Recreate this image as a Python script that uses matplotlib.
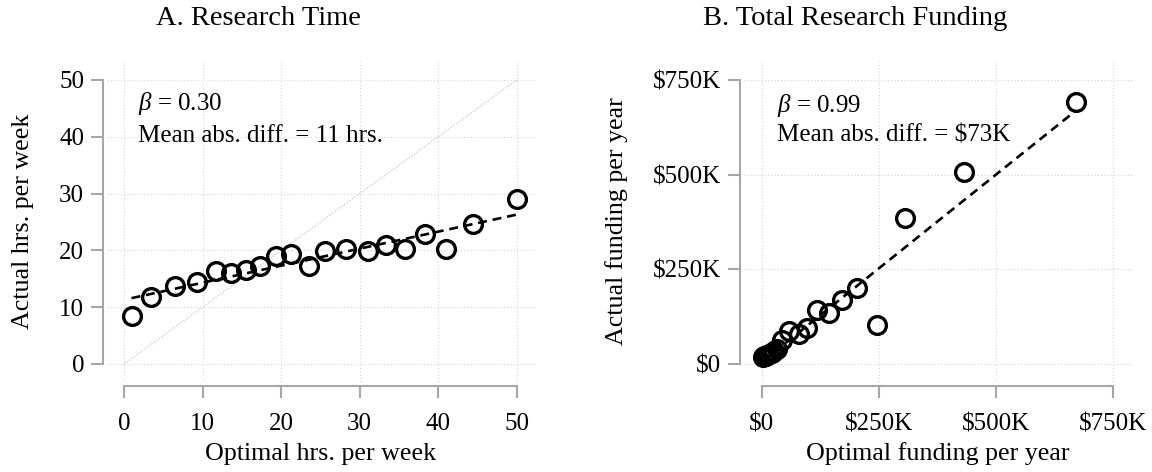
import numpy as np
import matplotlib
matplotlib.use("Agg")
import matplotlib.pyplot as plt

plt.rcParams["font.family"] = ["Liberation Serif", "DejaVu Serif"]
plt.rcParams["mathtext.fontset"] = "custom"
plt.rcParams["mathtext.rm"] = "Liberation Serif"
plt.rcParams["mathtext.it"] = "Liberation Serif:italic"

# panel A: binned research time (hrs. per week)
hrs_optimal = [0.96, 3.5, 6.5, 9.3, 11.7, 13.6, 15.5, 17.35, 19.3, 21.2,
               23.6, 25.6, 28.2, 31.1, 33.3, 35.7, 38.3, 41.0, 44.4, 50.0]
hrs_actual = [8.5, 11.8, 13.8, 14.4, 16.4, 16.1, 16.6, 17.2, 19.0, 19.3,
              17.3, 19.9, 20.3, 19.9, 20.9, 20.3, 22.8, 20.2, 24.6, 29.1]
hrs_beta = 0.30
hrs_intercept = 11.3
hrs_ticks = [0, 10, 20, 30, 40, 50]

# panel B: binned total research funding ($K per year)
fund_optimal = [2, 5, 8, 12, 16, 21, 26, 33, 44, 59,
                79, 96, 118, 143, 171, 203, 247, 306, 431, 671]
fund_actual = [18, 22, 20, 24, 27, 30, 34, 40, 64, 87,
               78, 95, 143, 135, 170, 202, 104, 386, 506, 693]
fund_beta = 0.99
fund_intercept = 5
fund_ticks = [0, 250, 500, 750]
fund_labels = ["$0", "$250K", "$500K", "$750K"]

W, H = 1152, 472
fig = plt.figure(figsize=(W / 100, H / 100), dpi=100)

axis_grey = "#a6a6a6"
grid_grey = "#d4d4d4"


def px_axes(left, right, top, bottom):
    return fig.add_axes([left / W, 1 - bottom / H, (right - left) / W, (bottom - top) / H])


def style_axes(ax, xticks, yticks, xbounds, ybounds):
    for side in ["top", "right"]:
        ax.spines[side].set_visible(False)
    for side in ["left", "bottom"]:
        ax.spines[side].set_position(("outward", 2.9))
        ax.spines[side].set_color(axis_grey)
        ax.spines[side].set_linewidth(1.5)
    ax.spines["left"].set_bounds(*ybounds)
    ax.spines["bottom"].set_bounds(*xbounds)
    ax.set_xticks(xticks)
    ax.set_yticks(yticks)
    ax.tick_params(axis="both", length=8.6, width=1.5, color=axis_grey,
                   labelsize=18)
    ax.tick_params(axis="x", pad=11)
    ax.tick_params(axis="y", pad=5)
    ax.grid(True, color=grid_grey, linewidth=0.8, linestyle=(0, (1, 2)))
    ax.set_axisbelow(True)


marker_kw = dict(linestyle="none", marker="o", markersize=12.8,
                 markerfacecolor="none", markeredgecolor="black",
                 markeredgewidth=2.4, zorder=3)
fit_kw = dict(color="black", linewidth=1.9, dashes=(3.4, 2.2), zorder=2)

# ---- Panel A ----
ax1 = px_axes(107, 535, 60, 382)
ax1.plot([0, 50], [0, 50], color="#cfcfcf", linewidth=1.0,
         linestyle=(0, (1, 1.2)), zorder=1)
x_fit = np.array([min(hrs_optimal), max(hrs_optimal)])
ax1.plot(x_fit, hrs_intercept + hrs_beta * x_fit, **fit_kw)
ax1.plot(hrs_optimal, hrs_actual, **marker_kw)
ax1.set_xlim(-2.16, 52.3)
ax1.set_ylim(-3.17, 53.5)
style_axes(ax1, hrs_ticks, hrs_ticks, (0, 50), (0, 50))
ax1.text(0.072, 0.845, r"$\beta$ = 0.30", transform=ax1.transAxes,
         fontsize=18, va="baseline")
ax1.text(0.072, 0.746, "Mean abs. diff. = 11 hrs.", transform=ax1.transAxes,
         fontsize=18, va="baseline")

# ---- Panel B ----
ax2 = px_axes(744, 1133, 60, 382)
x_fit = np.array([min(fund_optimal), max(fund_optimal)])
ax2.plot(x_fit, fund_intercept + fund_beta * x_fit, **fit_kw)
ax2.plot(fund_optimal, fund_actual, **marker_kw)
ax2.set_xlim(-38, 793)
ax2.set_ylim(-47.5, 803)
style_axes(ax2, fund_ticks, fund_ticks, (0, 750), (0, 750))
ax2.set_xticklabels(fund_labels)
ax2.set_yticklabels(fund_labels)
ax2.text(0.085, 0.84, r"$\beta$ = 0.99", transform=ax2.transAxes,
         fontsize=18, va="baseline")
ax2.text(0.085, 0.746, "Mean abs. diff. = $73K", transform=ax2.transAxes,
         fontsize=18, va="baseline")

# titles and axis labels
fig.text(258 / W, 1 - 25 / H, "A. Research Time", fontsize=20.5,
         ha="center", va="baseline")
fig.text(855 / W, 1 - 25 / H, "B. Total Research Funding", fontsize=20.5,
         ha="center", va="baseline")
fig.text(23 / W, 1 - 221 / H, "Actual hrs. per week", fontsize=18.7,
         rotation=90, ha="center", va="center")
fig.text(617 / W, 1 - 221 / H, "Actual funding per year", fontsize=18.7,
         rotation=90, ha="center", va="center")
fig.text(321 / W, 1 - 454 / H, "Optimal hrs. per week", fontsize=18.7,
         ha="center", va="center")
fig.text(938 / W, 1 - 454 / H, "Optimal funding per year", fontsize=18.7,
         ha="center", va="center")

fig.savefig("out.png", dpi=100)
